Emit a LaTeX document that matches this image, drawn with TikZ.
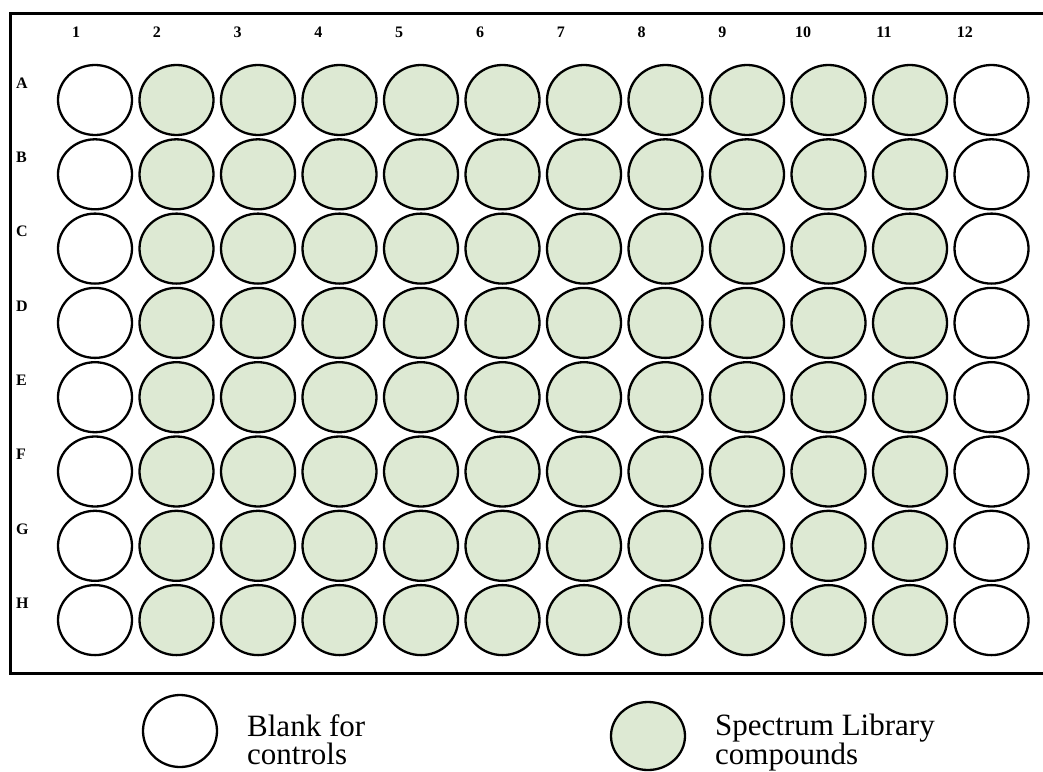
\documentclass[tikz,border=0pt]{standalone}
\usepackage{fontspec}
\setmainfont{Liberation Serif}
\usepackage{xcolor}
\definecolor{wellgreen}{HTML}{DDE9D3}
\usetikzlibrary{shapes.geometric,positioning}
\tikzset{
  well/.style={ellipse, draw=black, line width=2.3pt, minimum width=74pt,
               minimum height=70pt, inner sep=0pt},
  blankwell/.style={well, fill=white},
  cpdwell/.style={well, fill=wellgreen},
  platelbl/.style={font=\fontsize{16}{19}\selectfont\bfseries, inner sep=0pt},
  legtxt/.style={font=\fontsize{31}{28}\selectfont, align=left, inner sep=0pt,
                 anchor=north west},
}

\begin{document}
\begin{tikzpicture}[x=1pt, y=-1pt]
  \useasboundingbox (0,0) rectangle (1043,771);
  % plate outline (right edge runs off the page)
  \draw[line width=3pt] (1043,13) -- (10,13) -- (10,673) -- (1043,673);
  % column numbers
  \foreach \c in {1,...,12}
    \node[platelbl] (col\c) at ({76+(\c-1)*80.8},32) {\c};
  % rows of wells
  \foreach \r [count=\i from 0] in {A,B,C,D,E,F,G,H} {
    \node[platelbl, anchor=west] (row\r) at (16,{83+\i*74.3}) {\r};
    \foreach \c in {1,...,12} {
      \ifnum\c=1 \def\wst{blankwell}\else
        \ifnum\c=12 \def\wst{blankwell}\else \def\wst{cpdwell}\fi\fi
      \node[\wst] (w\r\c) at ({95+(\c-1)*81.5},{100+\i*74.3}) {};
    }
  }
  % legend
  \node[blankwell, minimum height=72pt] (legblank) at (180,731) {};
  \node[legtxt] (legblanktxt) at (247,714) {Blank for\\controls};
  \node[cpdwell, minimum height=68pt] (legcpd) at (648,736) {};
  \node[legtxt] (legcpdtxt) at (715,714) {Spectrum Library\\compounds};
\end{tikzpicture}
\end{document}
